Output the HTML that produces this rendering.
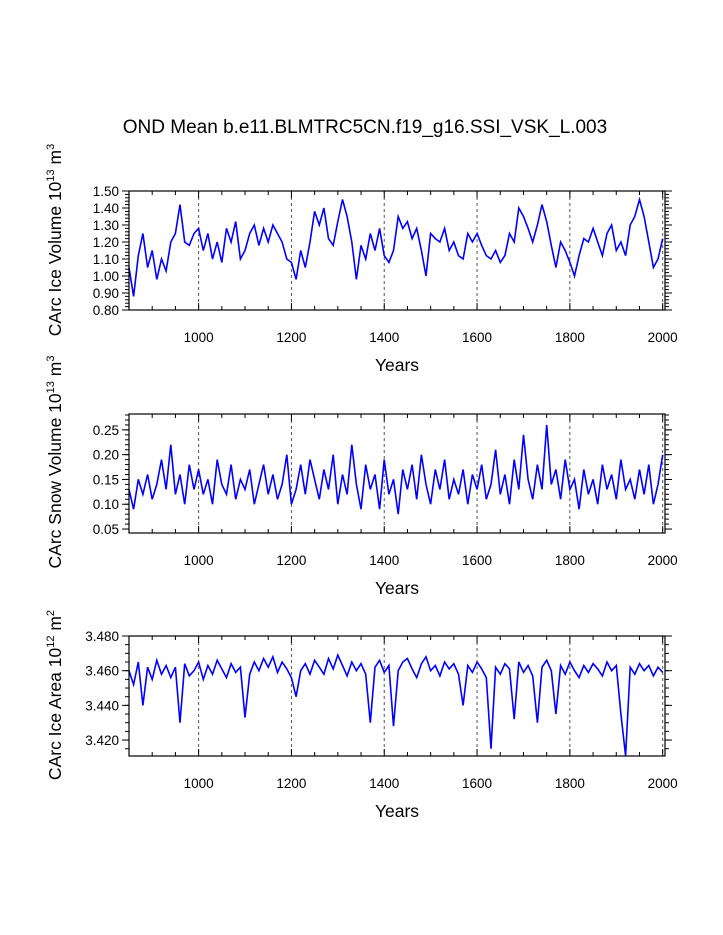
<!DOCTYPE html>
<html><head><meta charset="utf-8"><style>
html,body{margin:0;padding:0;background:#fff;}
svg{display:block;font-family:"Liberation Sans",sans-serif;}
</style></head><body>
<svg id="chart" width="723" height="935" viewBox="0 0 723 935" xmlns="http://www.w3.org/2000/svg">
<text x="365" y="133" font-size="19" text-anchor="middle">OND Mean b.e11.BLMTRC5CN.f19_g16.SSI_VSK_L.003</text>
</svg>
<script>
const startYear = 850;
const yearStep = 10;
const xTicks = [1000, 1200, 1400, 1600, 1800, 2000];
const iceVolume = [1.05,0.88,1.12,1.25,1.05,1.15,0.98,1.10,1.03,1.20,1.25,1.42,1.20,1.18,1.25,1.28,1.15,1.25,1.10,1.20,1.08,1.28,1.20,1.32,1.10,1.15,1.25,1.30,1.18,1.28,1.20,1.30,1.25,1.20,1.10,1.08,0.98,1.15,1.05,1.20,1.38,1.30,1.40,1.22,1.18,1.32,1.45,1.35,1.20,0.98,1.18,1.10,1.25,1.15,1.28,1.12,1.08,1.15,1.35,1.28,1.32,1.22,1.28,1.15,1.00,1.25,1.22,1.20,1.28,1.15,1.20,1.12,1.10,1.25,1.20,1.25,1.18,1.12,1.10,1.15,1.08,1.12,1.25,1.20,1.40,1.35,1.28,1.20,1.30,1.42,1.32,1.18,1.05,1.20,1.15,1.08,1.00,1.12,1.22,1.20,1.28,1.20,1.12,1.25,1.30,1.15,1.20,1.12,1.30,1.35,1.45,1.35,1.20,1.05,1.10,1.22];
const snowVolume = [0.13,0.09,0.15,0.12,0.16,0.11,0.14,0.19,0.13,0.22,0.12,0.16,0.10,0.18,0.13,0.17,0.12,0.15,0.10,0.19,0.14,0.12,0.18,0.11,0.15,0.13,0.17,0.10,0.14,0.18,0.12,0.16,0.11,0.14,0.20,0.10,0.13,0.18,0.12,0.19,0.15,0.11,0.17,0.13,0.20,0.10,0.16,0.12,0.22,0.14,0.09,0.18,0.13,0.16,0.09,0.19,0.12,0.15,0.08,0.17,0.13,0.18,0.11,0.20,0.14,0.10,0.17,0.13,0.19,0.11,0.15,0.12,0.17,0.10,0.16,0.13,0.18,0.11,0.14,0.21,0.12,0.16,0.10,0.19,0.13,0.24,0.15,0.11,0.18,0.13,0.26,0.14,0.17,0.11,0.19,0.13,0.15,0.09,0.17,0.12,0.15,0.10,0.18,0.13,0.16,0.11,0.19,0.13,0.15,0.11,0.17,0.12,0.18,0.10,0.14,0.20];
const iceArea = [3.460,3.452,3.465,3.440,3.462,3.455,3.466,3.458,3.463,3.456,
3.462,3.430,3.464,3.457,3.460,3.465,3.455,3.463,3.458,3.466,
3.461,3.456,3.464,3.459,3.462,3.433,3.458,3.465,3.460,3.467,
3.462,3.468,3.459,3.465,3.461,3.456,3.445,3.460,3.464,3.458,
3.466,3.462,3.458,3.467,3.461,3.469,3.463,3.457,3.465,3.460,
3.464,3.458,3.430,3.462,3.466,3.459,3.463,3.428,3.460,3.465,
3.467,3.461,3.456,3.464,3.468,3.460,3.463,3.457,3.465,3.461,
3.464,3.458,3.440,3.463,3.459,3.465,3.461,3.456,3.415,3.462,
3.458,3.464,3.461,3.432,3.465,3.459,3.463,3.457,3.430,3.462,
3.466,3.460,3.435,3.463,3.458,3.465,3.460,3.456,3.463,3.459,
3.464,3.461,3.457,3.465,3.460,3.463,3.435,3.411,3.462,3.458,
3.464,3.460,3.463,3.457,3.462,3.459];
const iceVolTicks = [0.80,0.90,1.00,1.10,1.20,1.30,1.40,1.50];
const snowTicks = [0.05,0.10,0.15,0.20,0.25];
const areaTicks = [3.420,3.440,3.460,3.480];

const svg = document.getElementById('chart');
const NS = 'http://www.w3.org/2000/svg';
function mk(tag, attrs, parent) {
  const e = document.createElementNS(NS, tag);
  for (const k in attrs) e.setAttribute(k, attrs[k]);
  (parent || svg).appendChild(e);
  return e;
}
const X0 = 129, X1 = 665, YR0 = 850, YR1 = 2005;
function xScale(yr) { return X0 + (yr - YR0) / (YR1 - YR0) * (X1 - X0); }

function panel(name, top, bot, ymin, ymax, ticks, minorStep, dec, values, titleHtml, titleY) {
  const g = mk('g', {});
  
  
  const ys = v => bot - (v - ymin) / (ymax - ymin) * (bot - top);
  xTicks.forEach(t => {
    const l = mk('line', {x1: xScale(t), x2: xScale(t), y1: top, y2: bot, stroke: '#555', 'stroke-width': 1, 'stroke-dasharray': '3,3'}, g);
    
    
  });
  let d = '';
  values.forEach((v, i) => {
    const yr = startYear + i * yearStep;
    d += (i ? 'L' : 'M') + xScale(yr).toFixed(1) + ',' + ys(Math.max(ymin, Math.min(ymax, v))).toFixed(1);
  });
  const p = mk('path', {d: d, fill: 'none', stroke: '#0000ff', 'stroke-width': 1.6}, g);
  
  
  const r = mk('rect', {x: X0, y: top, width: X1 - X0, height: bot - top, fill: 'none', stroke: '#000', 'stroke-width': 1.2}, g);
  
  
  for (let yr = 850; yr <= 2005; yr += 50) {
    const major = yr % 200 === 0;
    const len = major ? 7 : 4;
    mk('line', {x1: xScale(yr), x2: xScale(yr), y1: bot, y2: bot - len, stroke: '#000'}, g);
    mk('line', {x1: xScale(yr), x2: xScale(yr), y1: top, y2: top + len, stroke: '#000'}, g);
  }
  xTicks.forEach(t => {
    const tx = mk('text', {x: xScale(t), y: bot + 32, 'font-size': 13.5, 'text-anchor': 'middle'}, g);
    
    
    tx.textContent = t;
  });
  const xt = mk('text', {x: 397, y: bot + 61, 'font-size': 17.5, 'text-anchor': 'middle'}, g);
  
  
  xt.textContent = 'Years';
  for (let v = Math.ceil(ymin / minorStep) * minorStep; v <= ymax + 1e-9; v += minorStep) {
    const y = ys(v);
    mk('line', {x1: X0, x2: X0 - 4, y1: y, y2: y, stroke: '#000'}, g);
    mk('line', {x1: X1, x2: X1 + 4, y1: y, y2: y, stroke: '#000'}, g);
  }
  ticks.forEach(t => {
    const y = ys(t);
    mk('line', {x1: X0, x2: X0 - 7, y1: y, y2: y, stroke: '#000'}, g);
    mk('line', {x1: X1, x2: X1 + 7, y1: y, y2: y, stroke: '#000'}, g);
    const tx = mk('text', {x: X0 - 10, y: y + 5, 'font-size': 13.5, 'text-anchor': 'end'}, g);
    
    
    tx.textContent = t.toFixed(dec);
  });
  const yt = mk('text', {x: 0, y: 0, 'font-size': 17.5, 'text-anchor': 'middle', transform: 'translate(61,' + titleY + ') rotate(-90)'}, g);
  
  
  yt.innerHTML = titleHtml;
}
panel('ice-volume', 191, 310, 0.80, 1.50, iceVolTicks, 0.02, 2, iceVolume,
  'CArc Ice Volume 10<tspan font-size="11" dy="-7">13</tspan><tspan dy="7"> m</tspan><tspan font-size="11" dy="-7">3</tspan>', 240);
panel('snow-volume', 414, 533, 0.042, 0.282, snowTicks, 0.01, 2, snowVolume,
  'CArc Snow Volume 10<tspan font-size="11" dy="-7">13</tspan><tspan dy="7"> m</tspan><tspan font-size="11" dy="-7">3</tspan>', 462);
panel('ice-area', 636, 756, 3.4108, 3.480, areaTicks, 0.005, 3, iceArea,
  'CArc Ice Area 10<tspan font-size="11" dy="-7">12</tspan><tspan dy="7"> m</tspan><tspan font-size="11" dy="-7">2</tspan>', 695);
</script>
</body></html>
